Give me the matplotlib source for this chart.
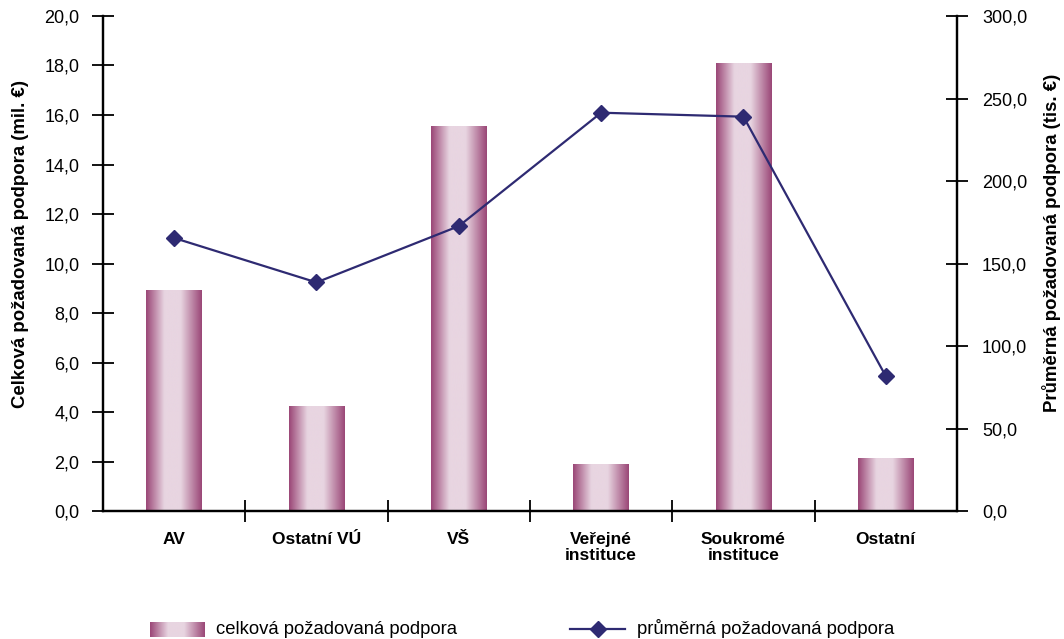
import numpy as np
import matplotlib.pyplot as plt
from matplotlib.colors import LinearSegmentedColormap
from matplotlib.lines import Line2D

plt.rcParams['font.family'] = ['Liberation Sans', 'DejaVu Sans']

categories = ['AV', 'Ostatní VÚ', 'VŠ', 'Veřejné\ninstituce', 'Soukromé\ninstituce', 'Ostatní']
total_support = [8.93, 4.25, 15.57, 1.9, 18.1, 2.15]        # mil. €
average_support = [165.5, 138.6, 172.7, 241.4, 239.0, 81.8]  # tis. €

left_ticks = np.arange(0, 20.1, 2)
right_ticks = np.arange(0, 300.1, 50)

bar_dark = '#9a4676'
bar_light = '#e8d5e1'
line_color = '#2e2a72'

grad = LinearSegmentedColormap.from_list(
    'bar_grad',
    [(0.0, bar_dark), (0.33, bar_light), (0.62, bar_light), (1.0, bar_dark)])
grad_row = np.linspace(0, 1, 256).reshape(1, -1)

fig = plt.figure(figsize=(10.64, 6.39), dpi=100)
ax = fig.add_axes([0.0968, 0.2, 0.8026, 0.775])
ax2 = ax.twinx()

x = np.arange(len(categories))
bars = ax.bar(x, total_support, width=0.39, color='none', edgecolor='none')
for b in bars:
    x0, w, h = b.get_x(), b.get_width(), b.get_height()
    im = ax.imshow(grad_row, cmap=grad, aspect='auto', interpolation='bicubic',
                   extent=[x0, x0 + w, 0, h], zorder=2)
    im.set_clip_path(b)

ax2.plot(x, average_support, color=line_color, lw=1.6, marker='D',
         markersize=8, markerfacecolor=line_color, markeredgecolor=line_color)

ax.set_xlim(-0.5, len(categories) - 0.5)
ax.set_ylim(0, 20)
ax2.set_ylim(0, 300)

fmt = lambda v: f'{v:.1f}'.replace('.', ',')
ax.set_yticks(left_ticks)
ax.set_yticklabels([fmt(v) for v in left_ticks])
ax2.set_yticks(right_ticks)
ax2.set_yticklabels([fmt(v) for v in right_ticks])

ax.set_xticks(x)
ax.set_xticklabels(categories, fontweight='bold', fontsize=12.5, linespacing=1.05)
ax.set_xticks(np.arange(0.5, len(categories) - 1, 1), minor=True)
ax.tick_params(axis='x', which='major', length=0, pad=15)
ax.tick_params(axis='x', which='minor', direction='inout', length=16, width=1.3)

ax.tick_params(axis='y', direction='inout', length=16, width=1.3, labelsize=13, pad=9)
ax2.tick_params(axis='y', direction='inout', length=16, width=1.3, labelsize=13, pad=10)
for a in (ax, ax2):
    for s in a.spines.values():
        s.set_linewidth(1.6)
    a.spines['top'].set_visible(False)

ax.set_ylabel('Celková požadovaná podpora (mil. €)', fontweight='bold', fontsize=13.4, va='center')
ax.yaxis.set_label_coords(-0.097, 0.54)
ax2.set_ylabel('Průměrná požadovaná podpora (tis. €)', fontweight='bold', fontsize=13.4,
               rotation=90, va='center')
ax2.yaxis.set_label_coords(1.111, 0.542)

# legend below the plot
ly = 1 - 629 / 639
sw = fig.add_axes([150 / 1064, 1 - 637 / 639, 55 / 1064, 15 / 639])
sw.imshow(grad_row, cmap=grad, aspect='auto', interpolation='bicubic')
sw.axis('off')
fig.text(216 / 1064, ly, 'celková požadovaná podpora', fontsize=13.3, va='center')
fig.add_artist(Line2D([570 / 1064, 625 / 1064], [ly, ly], transform=fig.transFigure,
                      color=line_color, lw=1.6))
fig.add_artist(Line2D([597.5 / 1064], [ly], transform=fig.transFigure,
                      color=line_color, marker='D', markersize=8))
fig.text(637 / 1064, ly, 'průměrná požadovaná podpora', fontsize=13.3, va='center')

fig.savefig('out.png', dpi=100)
